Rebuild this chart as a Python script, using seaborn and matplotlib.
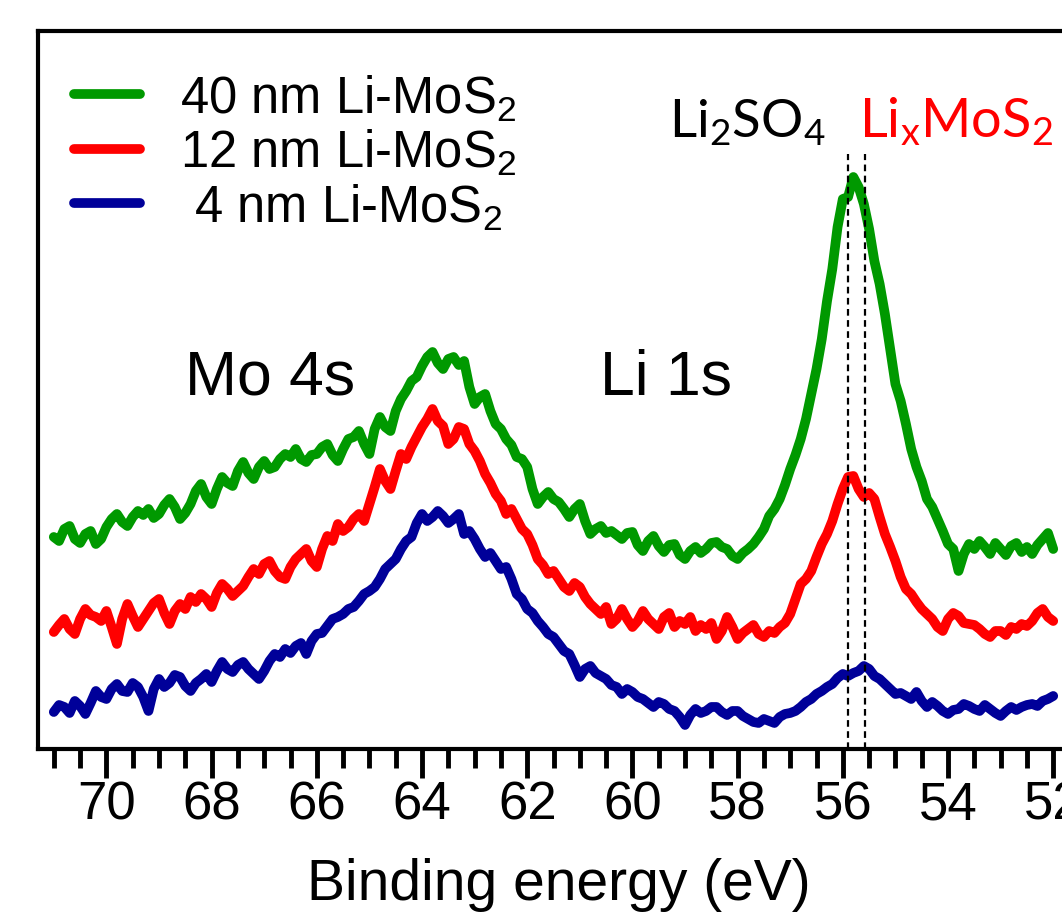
import numpy as np
import pandas as pd
import matplotlib
matplotlib.use("Agg")
import matplotlib.pyplot as plt
from matplotlib.ticker import MultipleLocator
import seaborn as sns

# Binding-energy grid of the scans (eV): starts at 71.0 eV, 0.1 eV step downwards
E_START, E_STEP = 71.0, 0.1

# Intensity (a.u.) of the Mo 4s / Li 1s region for three film thicknesses
i_40nm = [2.12, 2.08, 2.20, 2.23, 2.10, 2.06, 2.15, 2.18, 2.05, 2.10,
          2.22, 2.30, 2.35, 2.27, 2.23, 2.32, 2.38, 2.34, 2.40, 2.31,
          2.35, 2.44, 2.50, 2.42, 2.30, 2.36, 2.45, 2.58, 2.65, 2.52,
          2.45, 2.60, 2.72, 2.66, 2.63, 2.78, 2.87, 2.76, 2.70, 2.82,
          2.88, 2.80, 2.82, 2.90, 2.95, 2.92, 3.00, 2.90, 2.87, 2.94,
          2.95, 3.02, 3.05, 2.94, 2.88, 3.00, 3.10, 3.12, 3.18, 3.05,
          2.95, 3.20, 3.32, 3.22, 3.18, 3.38, 3.50, 3.58, 3.68, 3.72,
          3.83, 3.92, 3.97, 3.86, 3.80, 3.90, 3.92, 3.84, 3.88, 3.62,
          3.45, 3.52, 3.55, 3.38, 3.25, 3.20, 3.10, 3.04, 2.92, 2.90,
          2.82, 2.60, 2.45, 2.52, 2.57, 2.50, 2.47, 2.40, 2.32, 2.40,
          2.45, 2.28, 2.15, 2.20, 2.23, 2.16, 2.18, 2.14, 2.10, 2.16,
          2.17, 2.04, 1.98, 2.08, 2.13, 2.03, 1.97, 2.04, 2.05, 1.94,
          1.90, 1.98, 2.02, 1.96, 2.00, 2.06, 2.07, 2.02, 2.00, 1.93,
          1.90, 1.96, 2.00, 2.05, 2.12, 2.20, 2.33, 2.40, 2.50, 2.64,
          2.80, 2.94, 3.10, 3.30, 3.55, 3.80, 4.10, 4.48, 4.80, 5.22,
          5.50, 5.52, 5.72, 5.62, 5.45, 5.20, 4.88, 4.65, 4.35, 4.00,
          3.65, 3.48, 3.25, 3.00, 2.82, 2.68, 2.50, 2.42, 2.30, 2.18,
          2.05, 2.00, 1.78, 1.95, 2.05, 2.00, 2.08, 2.02, 1.95, 2.06,
          2.00, 1.94, 2.03, 2.06, 1.97, 2.02, 1.95, 2.04, 2.10, 2.16,
          2.00]

i_12nm = [1.17, 1.24, 1.30, 1.20, 1.15, 1.30, 1.40, 1.34, 1.32, 1.28,
          1.38, 1.22, 1.05, 1.30, 1.45, 1.33, 1.22, 1.30, 1.38, 1.46,
          1.50, 1.36, 1.25, 1.38, 1.45, 1.40, 1.52, 1.47, 1.55, 1.50,
          1.42, 1.56, 1.65, 1.60, 1.53, 1.58, 1.63, 1.72, 1.80, 1.75,
          1.85, 1.88, 1.78, 1.72, 1.70, 1.82, 1.90, 1.95, 2.00, 1.88,
          1.82, 2.00, 2.13, 2.08, 2.25, 2.18, 2.22, 2.30, 2.35, 2.28,
          2.45, 2.62, 2.80, 2.68, 2.60, 2.78, 2.95, 2.90, 3.02, 3.12,
          3.22, 3.30, 3.40, 3.28, 3.23, 3.05, 3.10, 3.22, 3.20, 3.05,
          2.98, 2.88, 2.75, 2.66, 2.55, 2.48, 2.35, 2.40, 2.30, 2.20,
          2.15, 2.04, 1.90, 1.84, 1.75, 1.78, 1.70, 1.62, 1.58, 1.66,
          1.62, 1.52, 1.45, 1.40, 1.35, 1.42, 1.25, 1.30, 1.40, 1.30,
          1.22, 1.28, 1.38, 1.30, 1.25, 1.20, 1.32, 1.36, 1.22, 1.28,
          1.25, 1.32, 1.18, 1.24, 1.20, 1.26, 1.10, 1.18, 1.32, 1.22,
          1.10, 1.16, 1.20, 1.24, 1.15, 1.12, 1.18, 1.16, 1.22, 1.26,
          1.35, 1.50, 1.65, 1.70, 1.78, 1.92, 2.05, 2.15, 2.28, 2.45,
          2.60, 2.72, 2.73, 2.60, 2.52, 2.56, 2.50, 2.32, 2.15, 2.02,
          1.88, 1.72, 1.60, 1.55, 1.47, 1.40, 1.35, 1.30, 1.22, 1.18,
          1.30, 1.36, 1.33, 1.26, 1.25, 1.24, 1.20, 1.15, 1.12, 1.18,
          1.18, 1.14, 1.22, 1.20, 1.25, 1.23, 1.28, 1.36, 1.40, 1.32,
          1.28]

i_4nm = [0.37, 0.44, 0.42, 0.36, 0.48, 0.43, 0.35, 0.46, 0.58, 0.52,
         0.50, 0.60, 0.65, 0.58, 0.57, 0.66, 0.62, 0.52, 0.38, 0.60,
         0.70, 0.62, 0.66, 0.74, 0.72, 0.63, 0.58, 0.66, 0.70, 0.75,
         0.67, 0.78, 0.87, 0.80, 0.77, 0.84, 0.87, 0.80, 0.75, 0.70,
         0.78, 0.88, 0.95, 0.92, 1.00, 0.96, 1.03, 1.06, 0.95, 1.08,
         1.15, 1.16, 1.23, 1.30, 1.32, 1.35, 1.40, 1.42, 1.48, 1.55,
         1.58, 1.62, 1.70, 1.80, 1.85, 1.90, 2.00, 2.08, 2.12, 2.26,
         2.35, 2.28, 2.32, 2.38, 2.33, 2.26, 2.30, 2.35, 2.15, 2.18,
         2.10, 2.00, 1.92, 1.96, 1.88, 1.80, 1.82, 1.70, 1.55, 1.50,
         1.40, 1.36, 1.28, 1.22, 1.15, 1.12, 1.05, 0.98, 0.95, 0.84,
         0.72, 0.80, 0.83, 0.76, 0.73, 0.70, 0.64, 0.62, 0.55, 0.60,
         0.57, 0.52, 0.50, 0.46, 0.42, 0.47, 0.45, 0.40, 0.38, 0.32,
         0.24, 0.34, 0.40, 0.36, 0.38, 0.42, 0.42, 0.37, 0.34, 0.38,
         0.38, 0.33, 0.30, 0.27, 0.26, 0.30, 0.28, 0.26, 0.32, 0.35,
         0.36, 0.38, 0.42, 0.47, 0.50, 0.55, 0.58, 0.62, 0.65, 0.71,
         0.75, 0.73, 0.76, 0.78, 0.83, 0.80, 0.73, 0.70, 0.65, 0.60,
         0.55, 0.56, 0.53, 0.50, 0.57, 0.48, 0.42, 0.47, 0.43, 0.38,
         0.35, 0.39, 0.40, 0.45, 0.43, 0.40, 0.38, 0.44, 0.40, 0.36,
         0.33, 0.38, 0.42, 0.39, 0.42, 0.44, 0.45, 0.43, 0.48, 0.50,
         0.53]

sample_labels = ["40 nm Li-MoS$_2$", "12 nm Li-MoS$_2$", " 4 nm Li-MoS$_2$"]
sample_colors = ["#009900", "#ff0000", "#000099"]

# Li 1s component positions (eV)
peak_li2so4 = 55.90
peak_lixmos2 = 55.57

x_ticks = [70, 68, 66, 64, 62, 60, 58, 56, 54, 52]

sns.set_style("white")
plt.rcParams["font.family"] = ["Liberation Sans", "DejaVu Sans"]
plt.rcParams["mathtext.fontset"] = "custom"
plt.rcParams["mathtext.rm"] = "Liberation Sans"
plt.rcParams["mathtext.sf"] = "Lato"
plt.rcParams["mathtext.default"] = "rm"
plt.rcParams["text.color"] = "black"
plt.rcParams["axes.labelcolor"] = "black"
plt.rcParams["xtick.color"] = "black"

energy = np.round(E_START - E_STEP * np.arange(len(i_40nm)), 2)
frames = []
for lab, vals in zip(sample_labels, [i_40nm, i_12nm, i_4nm]):
    frames.append(pd.DataFrame({"energy": energy, "intensity": vals, "sample": lab}))
df = pd.concat(frames, ignore_index=True)

fig = plt.figure(figsize=(10.62, 9.2), dpi=100)
ax = fig.add_axes([0.0358, 0.1848, 0.9807, 0.7804])

sns.lineplot(data=df, x="energy", y="intensity", hue="sample",
             hue_order=sample_labels, palette=sample_colors,
             linewidth=7, legend=False, ax=ax, sort=False)

ax.vlines([peak_li2so4, peak_lixmos2], 0, 5.95, colors="black",
          linestyles=(0, (3, 2)), linewidth=1.6, zorder=5)

ax.set_xlim(71.3, 51.5)
ax.set_ylim(0, 7.18)
ax.set_xticks(x_ticks)
ax.set_xticklabels([str(t) for t in x_ticks])
ax.xaxis.set_minor_locator(MultipleLocator(0.5))
ax.set_yticks([])
ax.set_ylabel("")
ax.set_xlabel("Binding energy (eV)", fontsize=41, labelpad=20)

for side in ["left", "top", "bottom"]:
    ax.spines[side].set_linewidth(3)
    ax.spines[side].set_color("black")
ax.spines["right"].set_visible(False)

ax.tick_params(axis="x", which="both", bottom=True, top=False)
ax.tick_params(axis="x", which="major", direction="out", length=21,
               width=3.5, labelsize=38, pad=1, color="black",
               labelcolor="black")
ax.tick_params(axis="x", which="minor", direction="out", length=14,
               width=3.5, color="black")

handles = ax.get_lines()[:3]
ax.legend(handles, sample_labels, loc="upper left",
          bbox_to_anchor=(0.015, 0.97), frameon=False, fontsize=36.5,
          handlelength=1.3, handletextpad=0.8, labelspacing=0.08,
          borderaxespad=0)

ax.text(68.5, 3.55, "Mo 4s", fontsize=45, color="black", va="baseline")
ax.text(60.62, 3.55, "Li 1s", fontsize=45, color="black", va="baseline")
ax.text(59.3, 6.12, r"$\mathsf{Li_2SO_4}$", fontsize=38, color="black",
        va="baseline")
ax.text(55.70, 6.12, r"$\mathsf{Li_xMoS_2}$", fontsize=39, color="#ff0000",
        va="baseline")

fig.savefig("out.png", dpi=100, facecolor="white")
